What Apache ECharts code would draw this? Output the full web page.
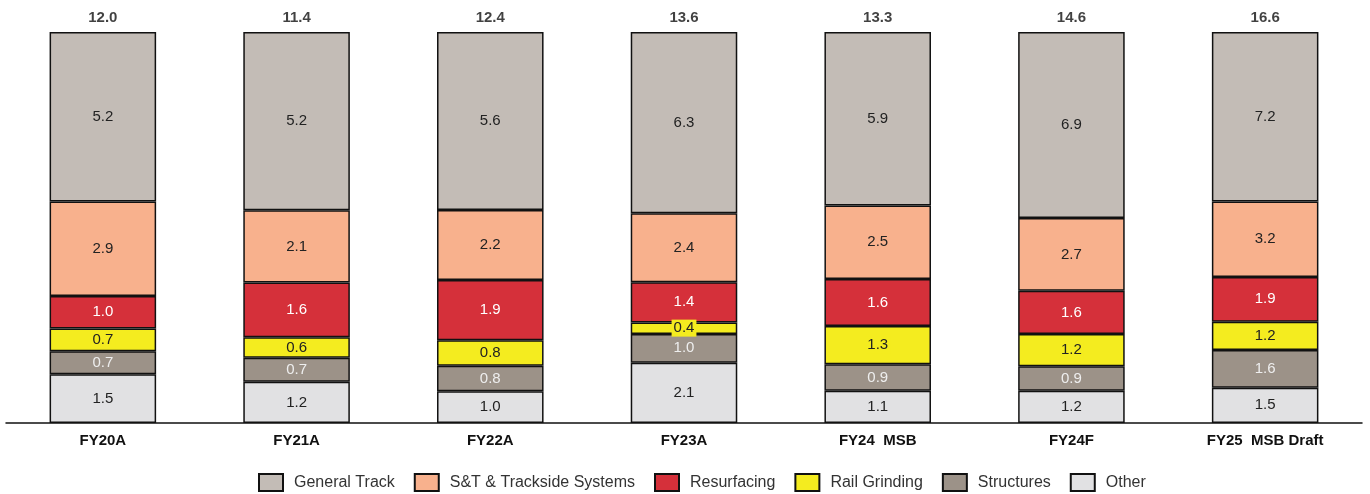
<!DOCTYPE html>
<html>
<head>
<meta charset="utf-8">
<script src="https://cdn.jsdelivr.net/npm/echarts@6/dist/echarts.min.js"></script>
<style>html,body{margin:0;padding:0;background:#fff}#c{width:1370px;height:494px}</style>
</head>
<body>
<div id="c"></div>
<script>
const categories = ['FY20A','FY21A','FY22A','FY23A','FY24  MSB','FY24F','FY25  MSB Draft'];
const totals = [12.0, 11.4, 12.4, 13.6, 13.3, 14.6, 16.6];
const other = [1.5, 1.2, 1.0, 2.1, 1.1, 1.2, 1.5];
const structures = [0.7, 0.7, 0.8, 1.0, 0.9, 0.9, 1.6];
const railGrinding = [0.7, 0.6, 0.8, 0.4, 1.3, 1.2, 1.2];
const resurfacing = [1.0, 1.6, 1.9, 1.4, 1.6, 1.6, 1.9];
const sntSystems = [2.9, 2.1, 2.2, 2.4, 2.5, 2.7, 3.2];
const generalTrack = [5.2, 5.2, 5.6, 6.3, 5.9, 6.9, 7.2];

const FONT = '"Liberation Sans", Arial, sans-serif';

const seriesDefs = [
  {name:'Other', data:other, color:'#e1e1e3', text:'#222'},
  {name:'Structures', data:structures, color:'#9c9288', text:'#eeeeee'},
  {name:'Rail Grinding', data:railGrinding, color:'#f4ec1f', text:'#222'},
  {name:'Resurfacing', data:resurfacing, color:'#d5303a', text:'#ffffff'},
  {name:'S&T & Trackside Systems', data:sntSystems, color:'#f8b18d', text:'#222'},
  {name:'General Track', data:generalTrack, color:'#c3bcb6', text:'#222'}
];

const sums = categories.map((c,i)=>seriesDefs.reduce((s,d)=>s+d.data[i],0));

const series = seriesDefs.map(d=>({
  name:d.name,
  type:'bar',
  stack:'s',
  barWidth:'55%',
  data:d.data.map((v,i)=>({value:v/sums[i]*100, raw:v})),
  itemStyle:{color:d.color, borderColor:'#111', borderWidth:1.5},
  label:{
    show:true, position:'inside', color:d.text, fontSize:15,
    fontFamily:FONT,
    formatter:p=>p.data.raw.toFixed(1),
    backgroundColor: d.name==='Rail Grinding' ? d.color : 'transparent',
    padding:[1,2]
  },
  emphasis:{disabled:true}
}));

series.push({
  name:'Total', type:'scatter', symbolSize:0,
  data:totals.map(t=>({value:100, raw:t})),
  label:{show:true, position:'top', distance:7, color:'#111', fontSize:15, fontWeight:'bold',
    fontFamily:FONT,
    formatter:p=>p.data.raw.toFixed(1)},
  silent:true
});

const chart = echarts.init(document.getElementById('c'), null, {renderer:'canvas'});
chart.setOption({
  animation:false,
  backgroundColor:'#fff',
  grid:{left:6, right:8, top:32, bottom:71, containLabel:false},
  legend:{
    data:['General Track','S&T & Trackside Systems','Resurfacing','Rail Grinding','Structures','Other'],
    top:468, left:253, icon:'rect', itemWidth:24, itemHeight:17, itemGap:19,
    textStyle:{fontSize:16, color:'#333', fontFamily:FONT, padding:[0,0,0,6]}
  },
  xAxis:{
    type:'category', data:categories,
    axisLine:{lineStyle:{color:'#111', width:1.5}},
    axisTick:{show:false},
    axisLabel:{fontSize:15, fontWeight:'bold', color:'#111', margin:10,
      fontFamily:FONT}
  },
  yAxis:{type:'value', min:0, max:100, show:false, splitLine:{show:false}},
  series:series
});
</script>
</body>
</html>
